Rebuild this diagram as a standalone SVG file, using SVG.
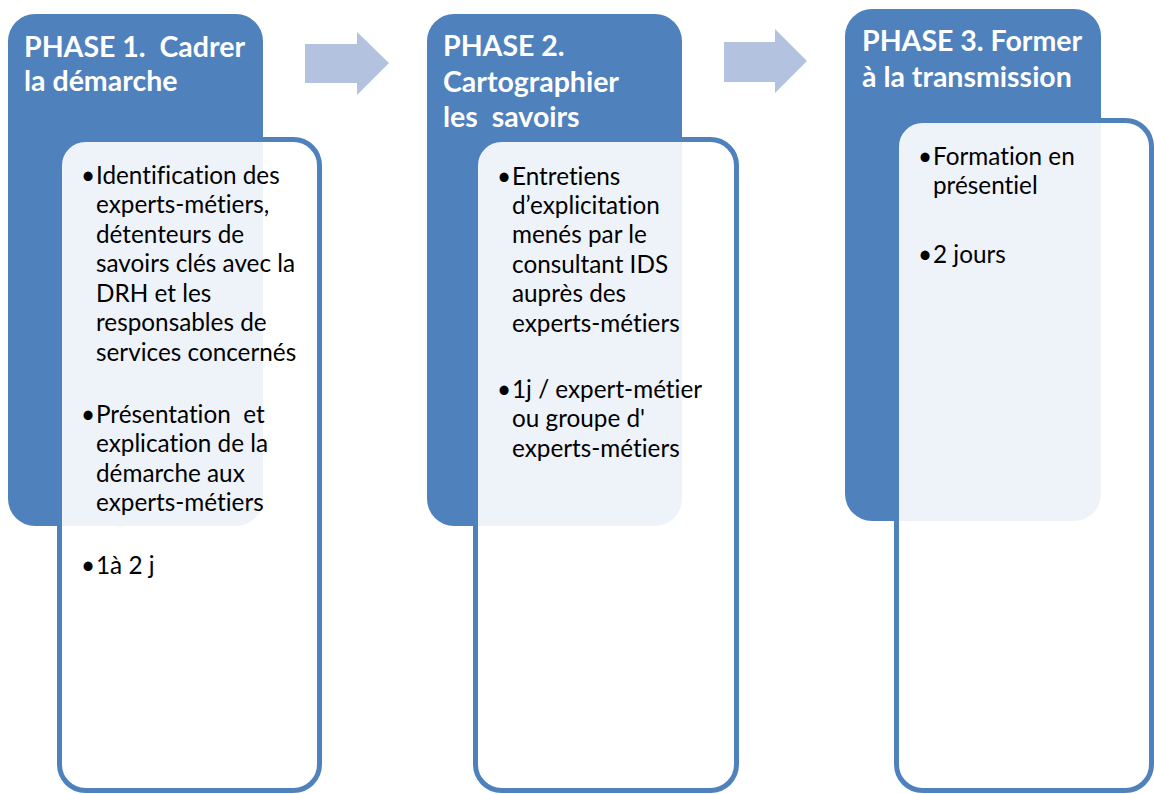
<svg xmlns="http://www.w3.org/2000/svg" width="1154" height="794" viewBox="0 0 1154 794">
  <style>
    .hdr { fill: #4F81BD; }
    .card { fill: #FFFFFF; fill-opacity: 0.9; stroke: #4F81BD; stroke-width: 5; }
    .arrow { fill: #B3C2DE; }
    .title { font-family: Lato, "Open Sans", sans-serif; font-weight: bold; font-size: 28.5px; fill: #FFFFFF; font-variant-ligatures: none; }
    .body { font-family: Lato, "Open Sans", sans-serif; font-size: 24.3px; fill: #000000; font-variant-ligatures: none; }
    .bul { text-anchor: middle; }
  </style>
  <rect width="1154" height="794" fill="#FFFFFF"/>
  <g id="connectors">
    <polygon class="arrow" points="305,44 357,44 357,32 389,63 357,95 357,83 305,83"/>
    <polygon class="arrow" points="724,42 775,42 775,29 807,61 775,93 775,82 724,82"/>
  </g>
  <g id="phase1">
    <rect class="hdr" x="8" y="14" width="255" height="512" rx="27"/>
    <text class="title" x="24" y="57">PHASE 1.&#160; Cadrer</text>
    <text class="title" x="24" y="91">la démarche</text>
    <rect class="card" x="59.5" y="139.5" width="260" height="651" rx="26"/>
    <g class="body">
      <text class="bul" x="88" y="184">•</text>
      <text x="96" y="184">Identification des</text>
      <text x="96" y="213">experts-métiers,</text>
      <text x="96" y="243">détenteurs de</text>
      <text x="96" y="272">savoirs clés avec la</text>
      <text x="96" y="302">DRH et les</text>
      <text x="96" y="331">responsables de</text>
      <text x="96" y="361">services concernés</text>
      <text class="bul" x="88" y="423">•</text>
      <text x="96" y="423">Présentation&#160; et</text>
      <text x="96" y="452">explication de la</text>
      <text x="96" y="482">démarche aux</text>
      <text x="96" y="511">experts-métiers</text>
      <text class="bul" x="88" y="574">•</text>
      <text x="96" y="574">1à 2 j</text>
    </g>
  </g>
  <g id="phase2">
    <rect class="hdr" x="427" y="14" width="255" height="512" rx="27"/>
    <text class="title" x="443" y="56">PHASE 2.</text>
    <text class="title" x="443" y="92">Cartographier</text>
    <text class="title" x="443" y="127">les&#160; savoirs</text>
    <rect class="card" x="475.5" y="139.5" width="261" height="651" rx="26"/>
    <g class="body">
      <text class="bul" x="504" y="185">•</text>
      <text x="512" y="185">Entretiens</text>
      <text x="512" y="214">d’explicitation</text>
      <text x="512" y="243">menés par le</text>
      <text x="512" y="273">consultant IDS</text>
      <text x="512" y="302">auprès des</text>
      <text x="512" y="332">experts-métiers</text>
      <text class="bul" x="504" y="398">•</text>
      <text x="512" y="398">1j / expert-métier</text>
      <text x="512" y="427">ou groupe d'</text>
      <text x="512" y="457">experts-métiers</text>
    </g>
  </g>
  <g id="phase3">
    <rect class="hdr" x="845" y="9" width="256" height="512" rx="27"/>
    <text class="title" x="862" y="51">PHASE 3. Former</text>
    <text class="title" x="862" y="87">à la transmission</text>
    <rect class="card" x="896.5" y="120.5" width="255" height="670" rx="26"/>
    <g class="body">
      <text class="bul" x="925" y="165">•</text>
      <text x="933" y="165">Formation en</text>
      <text x="933" y="194">présentiel</text>
      <text class="bul" x="925" y="263">•</text>
      <text x="933" y="263">2 jours</text>
    </g>
  </g>
</svg>
